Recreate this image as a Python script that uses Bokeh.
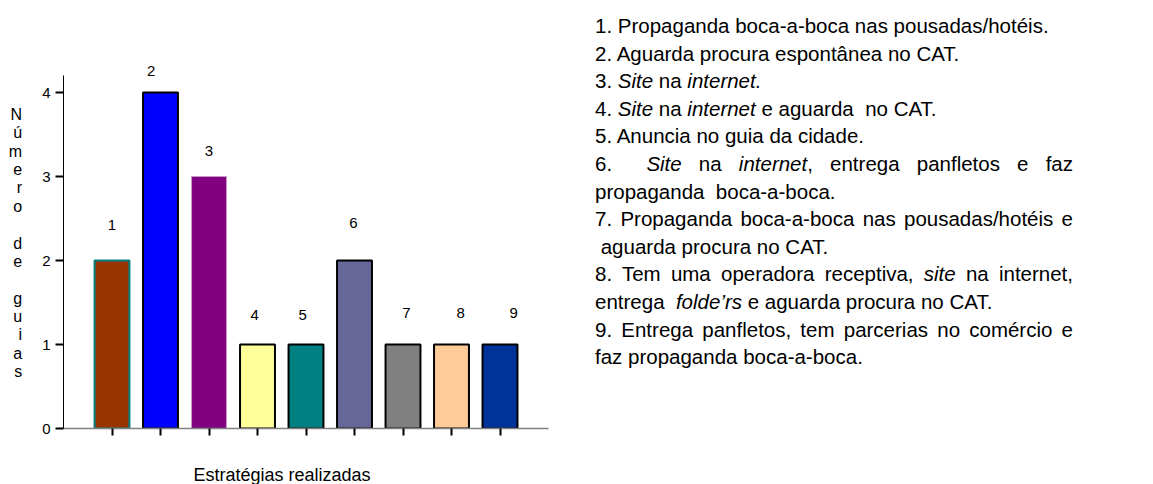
from bokeh.plotting import figure
from bokeh.models import ColumnDataSource, Range1d, Div, Title
from bokeh.layouts import row
from bokeh.core.properties import value
from bokeh.embed import file_html
from bokeh.resources import INLINE

# ---- data ----
categories = ["1", "2", "3", "4", "5", "6", "7", "8", "9"]
guias = [2, 4, 3, 1, 1, 2, 1, 1, 1]
y_ticks = [0, 1, 2, 3, 4]
x_title = "Estratégias realizadas"
y_title = "Número de guias"
strategies = [
    "1. Propaganda boca-a-boca nas pousadas/hotéis.",
    "2. Aguarda procura espontânea no CAT.",
    "3. <i>Site</i> na <i>internet.</i>",
    "4. <i>Site</i> na <i>internet</i> e aguarda&nbsp; no CAT.",
    "5. Anuncia no guia da cidade.",
    "6.&nbsp; <i>Site</i> na <i>internet</i>, entrega panfletos e faz|propaganda&nbsp; boca-a-boca.",
    "7. Propaganda boca-a-boca nas pousadas/hotéis e|&nbsp;aguarda procura no CAT.",
    "8. Tem uma operadora receptiva, <i>site</i> na internet,|entrega&nbsp; <i>folde’rs</i> e aguarda procura no CAT.",
    "9. Entrega panfletos, tem parcerias no comércio e|faz propaganda boca-a-boca.",
]

# ---- styles / layout ----
fill_colors = ["#993300", "#0000FF", "#800080", "#FFFF99", "#008080",
               "#666699", "#808080", "#FFCC99", "#003399"]
line_colors = ["#008080", "black", "#CC99CC", "black", "black",
               "black", "black", "black", "black"]
line_widths = [2, 2, 1, 2, 2, 2, 2, 2, 2]
label_dx = [0.0, -0.19, 0.0, -0.06, -0.07, -0.02, 0.07, 0.19, 0.28]
label_dy = [0.42, 0.26, 0.30, 0.35, 0.35, 0.45, 0.37, 0.37, 0.37]

FONT = "Liberation Sans"

xs = list(range(1, len(categories) + 1))
src = ColumnDataSource(dict(
    x=xs, top=guias, fill=fill_colors, line=line_colors, lw=line_widths,
    lx=[x + d for x, d in zip(xs, label_dx)],
    ly=[g + d for g, d in zip(guias, label_dy)],
    txt=categories,
))

p = figure(width=590, height=484, output_backend="svg", toolbar_location=None,
           x_range=Range1d(0, len(categories) + 1), y_range=Range1d(0, 4.417),
           min_border_left=63, min_border_right=42, min_border_top=57,
           min_border_bottom=56)
p.outline_line_color = None
p.xgrid.visible = False
p.ygrid.visible = False
p.background_fill_color = "white"
p.border_fill_color = "white"

p.vbar(x="x", top="top", width=0.72, bottom=0, source=src,
       fill_color="fill", line_color="line", line_width="lw")
p.text(x="lx", y="ly", text="txt", source=src, text_align="center",
       text_baseline="middle", text_font=value(FONT), text_font_size="15px",
       text_color="black")

# y axis
ya = p.yaxis[0]
ya.ticker = y_ticks
ya.bounds = (0, 4.2)
ya.axis_line_color = "black"
ya.axis_line_width = 1
ya.major_tick_out = 8
ya.major_tick_in = 0
ya.major_tick_line_width = 2
ya.major_tick_line_color = "black"
ya.minor_tick_line_color = None
ya.major_label_standoff = 5
ya.major_label_text_font = FONT
ya.major_label_text_font_size = "15px"
ya.major_label_text_color = "black"
ya.axis_label = "\n".join(y_title)
ya.axis_label_orientation = "horizontal"
ya.axis_label_text_font = FONT
ya.axis_label_text_font_size = "16px"
ya.axis_label_text_font_style = "normal"
ya.axis_label_text_line_height = 1.08
ya.axis_label_text_color = "black"
ya.axis_label_standoff = 17

# x axis (ticks only; blank labels reserve room above the title)
xa = p.xaxis[0]
xa.ticker = xs
xa.axis_line_color = "#808080"
xa.axis_line_width = 1.5
xa.major_tick_out = 7
xa.major_tick_in = 0
xa.major_tick_line_width = 2
xa.major_tick_line_color = "black"
xa.minor_tick_line_color = None
xa.major_label_overrides = {x: " " for x in xs}
xa.major_label_text_font = FONT
xa.major_label_text_font_size = "18px"
xa.major_label_text_color = "white"
xa.major_label_standoff = 4

p.add_layout(Title(text=x_title, align="left", offset=130, standoff=0,
                   text_font=FONT, text_font_size="18px",
                   text_font_style="normal", text_color="black"), "below")

# ---- text block on the right ----
parts = []
for s in strategies:
    segs = s.split("|")
    for i, seg in enumerate(segs):
        last = i == len(segs) - 1
        if not last:
            style = "text-align:justify;text-align-last:justify;"
        else:
            style = "text-align:left;"
        parts.append(f'<div style="{style}white-space:normal">{seg}</div>')
html = ('<div style="font-family:\'Liberation Sans\',Arial,sans-serif;'
        'font-size:20.5px;line-height:27.6px;color:#000;width:478px;'
        'padding-top:7px;margin:0">' + "".join(parts) + "</div>")
div = Div(text=html, width=555, height=484)

layout = row(p, div)
open("out.html", "w").write(file_html(layout, INLINE))
